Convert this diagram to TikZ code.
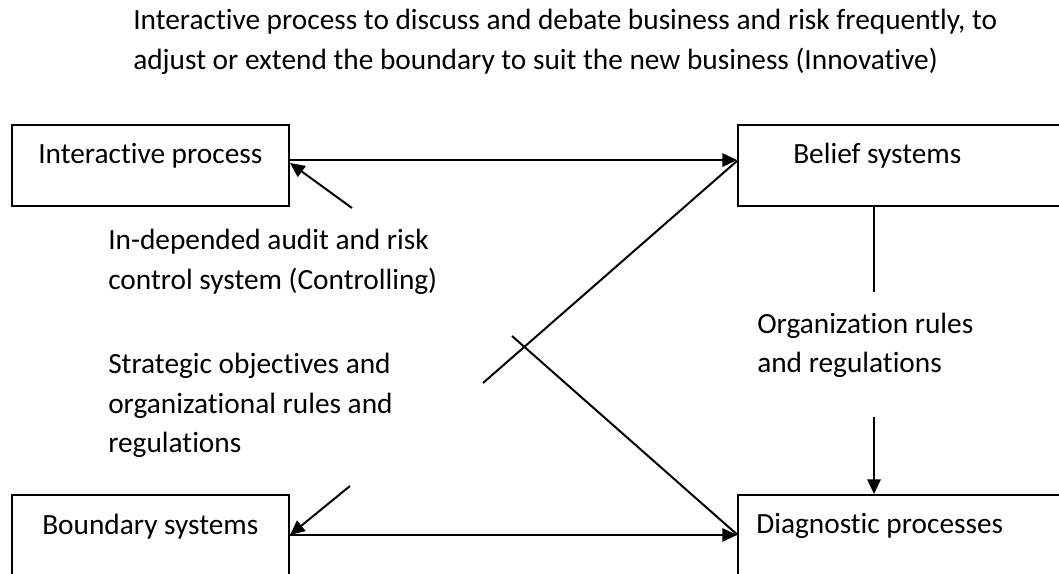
\documentclass[tikz,border=0pt]{standalone}
\usepackage{fontspec}
\setmainfont{Carlito}[Ligatures={NoCommon,NoContextual}]
\usetikzlibrary{arrows.meta}
\begin{document}
\begin{tikzpicture}[x=0.75pt,y=-0.75pt,
  box/.style={draw,line width=1.5pt,rectangle,inner sep=0pt,anchor=north west,minimum height=60.75pt},
  txt/.style={anchor=base west,inner sep=0pt,font=\fontsize{22}{26}\selectfont},
  conn/.style={line width=1.5pt},
  arr/.style={conn,-{Triangle[length=11pt,width=10pt]}}]
\useasboundingbox (0,0) rectangle (1059,574);
\clip (0,0) rectangle (1059,574);
% boxes
\node[box,minimum width=207.75pt] (ip) at (11,124) {};
\node[box,minimum width=256pt] (bel) at (737,124) {};
\node[box,minimum width=207.75pt] (bnd) at (11,494) {};
\node[box,minimum width=256pt] (dia) at (737,494) {};
% texts
\node[txt] (t1) at (133,30) {Interactive process to discuss and debate business and risk frequently, to};
\node[txt] (t2) at (133,70) {adjust or extend the boundary to suit the new business (Innovative)};
\node[txt] (lip) at (38,163) {Interactive process};
\node[txt] (lbel) at (793,163) {Belief systems};
\node[txt] (lbnd) at (42,534) {Boundary systems};
\node[txt] (ldia) at (756,533) {Diagnostic processes};
\node[txt] (a1) at (108,249) {In-depended audit and risk};
\node[txt] (a2) at (108,289) {control system (Controlling)};
\node[txt] (s1) at (108,373) {Strategic objectives and};
\node[txt] (s2) at (108,413) {organizational rules and};
\node[txt] (s3) at (108,452) {regulations};
\node[txt] (o1) at (757,333) {Organization rules};
\node[txt] (o2) at (757,372) {and regulations};
% free ends
\coordinate (c1) at (352,208);
\coordinate (c2) at (483,383);
\coordinate (c3) at (512,336);
\coordinate (c4) at (350,486);
\coordinate (c5) at (874,292);
\coordinate (c6) at (874,417);
% connectors
\draw[arr] ([yshift=4.1pt]ip.east) -- ([yshift=4.1pt]bel.west);
\draw[arr] (c1) -- ([yshift=1.9pt]ip.east);
\draw[conn] (c2) -- ([yshift=3.4pt]bel.west);
\draw[conn] (c3) -- ([yshift=0.8pt]dia.west);
\draw[arr] ([yshift=0.4pt]bnd.east) -- ([yshift=0.4pt]dia.west);
\draw[arr] (c4) -- ([yshift=0.4pt]bnd.east);
\draw[conn] (bel.south -| c5) -- (c5);
\draw[arr] (c6) -- (dia.north -| c6);
\end{tikzpicture}
\end{document}
